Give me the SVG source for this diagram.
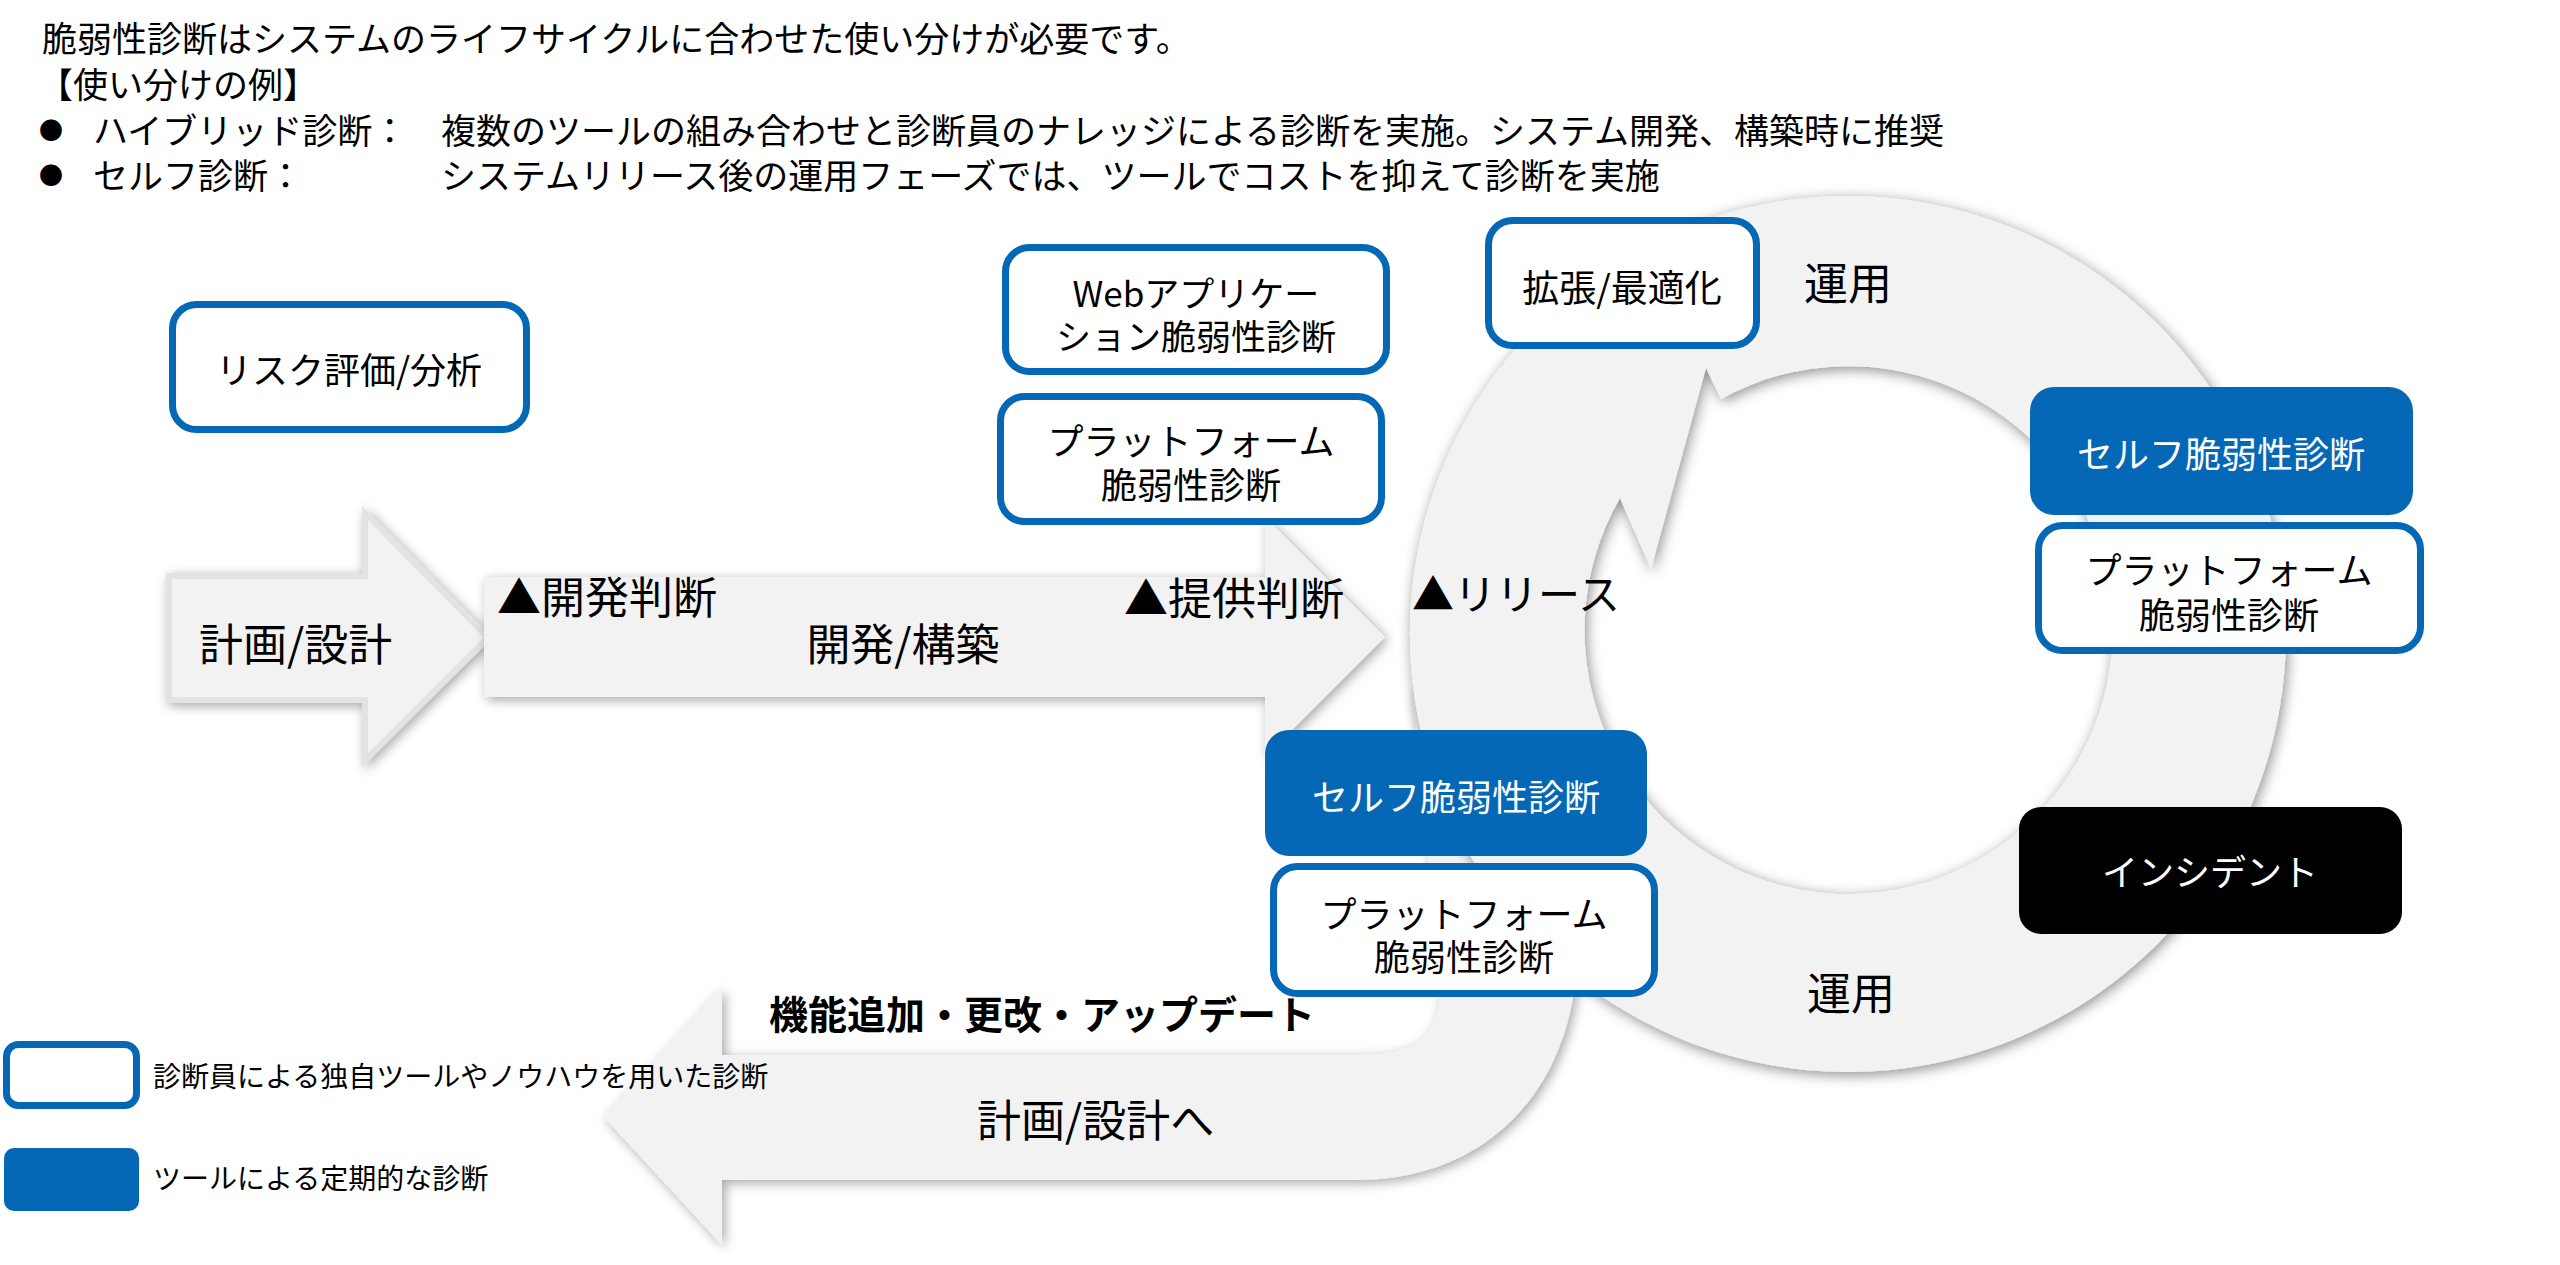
<svg xmlns="http://www.w3.org/2000/svg" width="2560" height="1265" viewBox="0 0 2560 1265">
<defs>
<style>
.t{font-family:'Noto Sans CJK JP','Noto Sans',sans-serif;fill:#000;dominant-baseline:central}
.m{text-anchor:middle}
.w{fill:#fff}
.box{fill:#fff;stroke:#0568b6;stroke-width:7}
.bbox{fill:#0568b6}
.kbox{fill:#000}
.g{fill:#f2f2f2}
</style>
<filter id="sh" x="-10%" y="-10%" width="120%" height="120%">
<feDropShadow dx="3" dy="3" stdDeviation="6" flood-color="#000" flood-opacity="0.35"/>
</filter>
<filter id="shr" x="-10%" y="-10%" width="120%" height="120%">
<feDropShadow dx="2" dy="3" stdDeviation="7" flood-color="#000" flood-opacity="0.45"/>
</filter>
</defs>
<rect width="2560" height="1265" fill="#fff"/>

<g id="header">
<text class="t" x="42" y="36" font-size="35">脆弱性診断はシステムのライフサイクルに合わせた使い分けが必要です。</text>
<text class="t" x="38" y="82" font-size="35">【使い分けの例】</text>
<text class="t" x="39" y="128" font-size="24">●</text>
<text class="t" x="93" y="128" font-size="35">ハイブリッド診断：</text>
<text class="t" x="441" y="128" font-size="35">複数のツールの組み合わせと診断員のナレッジによる診断を実施。システム開発、構築時に推奨</text>
<text class="t" x="39" y="173" font-size="24">●</text>
<text class="t" x="93" y="173" font-size="35">セルフ診断：</text>
<text class="t" x="441" y="173" font-size="35">システムリリース後の運用フェーズでは、ツールでコストを抑えて診断を実施</text>
</g>

<g id="connectors">
<path id="return-arrow" class="g" filter="url(#sh)" d="M1412,690 L1440,985 C1440,1035 1420,1055 1360,1055 L722,1055 L722,987 L604,1117 L722,1245 L722,1180 L1357,1180 C1480,1180 1560,1100 1575,985 L1600,880 L1520,700 Z"/>
<path id="arrow-plan" class="g" filter="url(#sh)" stroke="#e3e3e3" stroke-width="6" d="M169,576 L365,576 L365,513 L488,638 L365,760 L365,700 L169,700 Z"/>
<path id="arrow-dev" class="g" filter="url(#sh)" d="M484,577 L1265,577 L1265,517 L1385,637 L1265,757 L1265,697 L484,697 Z"/>
<path id="ring" class="g" filter="url(#shr)" fill-rule="evenodd" d="M1848,196 A438,438 0 1 1 1847.9,196 Z M1721,399 L1706,368 L1651,569 L1620,498 A264,264 0 1 0 1721,399 Z"/>
</g>

<g id="labels">
<text class="t" x="199" y="642" font-size="44">計画/設計</text>
<text class="t" x="497" y="595" font-size="44">▲開発判断</text>
<text class="t m" x="903" y="642" font-size="44">開発/構築</text>
<text class="t" x="1124" y="596" font-size="44">▲提供判断</text>
<text class="t" x="1412" y="591" font-size="42">▲リリース</text>
<text class="t m" x="1848" y="281" font-size="44">運用</text>
<text class="t m" x="1851" y="991" font-size="44">運用</text>
<text class="t" x="769" y="1012" font-size="39" font-weight="bold">機能追加・更改・アップデート</text>
<text class="t" x="977" y="1118" font-size="44">計画/設計へ</text>
</g>

<g id="risk">
<rect class="box" x="172.5" y="304.5" width="354" height="125" rx="24"/>
<text class="t m" x="349" y="368" font-size="36">リスク評価/分析</text>
</g>
<g id="webapp">
<rect class="box" x="1005.5" y="247.5" width="381" height="124" rx="24"/>
<text class="t m" x="1196" y="291" font-size="35"><tspan x="1196" y="291">Webアプリケー</tspan><tspan x="1196" y="334">ション脆弱性診断</tspan></text>
</g>
<g id="platform1">
<rect class="box" x="1000.5" y="396.5" width="381" height="125" rx="24"/>
<text class="t m" x="1191" y="439" font-size="36"><tspan x="1191" y="439">プラットフォーム</tspan><tspan x="1191" y="483">脆弱性診断</tspan></text>
</g>
<g id="optimize">
<rect class="box" x="1488.5" y="220.5" width="268" height="125" rx="24"/>
<text class="t m" x="1622" y="286" font-size="37">拡張/最適化</text>
</g>
<g id="self1">
<rect class="bbox" x="2030" y="387" width="383" height="128" rx="24"/>
<text class="t m w" x="2221" y="452" font-size="36">セルフ脆弱性診断</text>
</g>
<g id="platform2">
<rect class="box" x="2038.5" y="525.5" width="382" height="125" rx="24"/>
<text class="t m" x="2229" y="568" font-size="36"><tspan x="2229" y="568">プラットフォーム</tspan><tspan x="2229" y="613">脆弱性診断</tspan></text>
</g>
<g id="incident">
<rect class="kbox" x="2019" y="807" width="383" height="127" rx="22"/>
<text class="t m w" x="2210" y="870" font-size="36">インシデント</text>
</g>
<g id="self2">
<rect class="bbox" x="1265" y="730" width="382" height="126" rx="24"/>
<text class="t m w" x="1456" y="795" font-size="36">セルフ脆弱性診断</text>
</g>
<g id="platform3">
<rect class="box" x="1273.5" y="866.5" width="381" height="127" rx="24"/>
<text class="t m" x="1464" y="912" font-size="36"><tspan x="1464" y="912">プラットフォーム</tspan><tspan x="1464" y="955">脆弱性診断</tspan></text>
</g>

<g id="legend">
<rect class="box" x="6.5" y="1044.5" width="130" height="61" rx="12"/>
<text class="t" x="153" y="1075" font-size="28">診断員による独自ツールやノウハウを用いた診断</text>
<rect class="bbox" x="4" y="1148" width="135" height="63" rx="10"/>
<text class="t" x="153" y="1177" font-size="28">ツールによる定期的な診断</text>
</g>
</svg>
